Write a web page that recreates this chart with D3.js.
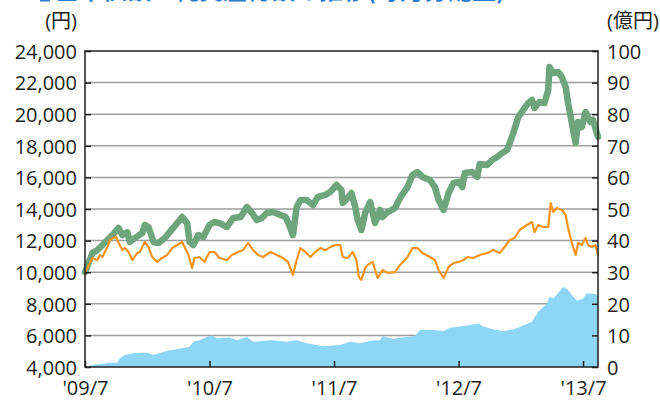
<html>
<head>
<meta charset="utf-8">
<script src="https://d3js.org/d3.v7.min.js"></script>
<style>
  body { margin: 0; background: #fff; }
  text { font-family: "Open Sans", "Noto Sans CJK JP", sans-serif; fill: #231f20; }
  .grid { stroke: #9d9d9d; stroke-width: 1.5; }
  .frame { fill: none; stroke: #231f20; stroke-width: 1.5; }
  .axis line { stroke: #231f20; stroke-width: 1.5; }
  .axis path { display: none; }
  .axis text { font-size: 20px; }
</style>
</head>
<body>
<svg id="chart" width="660" height="400"></svg>
<script>
// x positions are decimal years ('09/7 = 2009.5)
const xTicks = [2009.5, 2010.5, 2011.5, 2012.5, 2013.5];
const xLabels = ["'09/7", "'10/7", "'11/7", "'12/7", "'13/7"];
const leftTicks = [4000, 6000, 8000, 10000, 12000, 14000, 16000, 18000, 20000, 22000, 24000];
const rightTicks = [0, 10, 20, 30, 40, 50, 60, 70, 80, 90, 100];

// 基準価額(分配金再投資) - green, left axis
const greenT = [2009.50,2009.56,2009.60,2009.64,2009.68,2009.72,2009.77,2009.80,2009.84,2009.86,2009.90,2009.96,2009.98,2010.01,2010.05,2010.09,2010.14,2010.18,2010.24,2010.28,2010.32,2010.34,2010.37,2010.41,2010.45,2010.50,2010.54,2010.58,2010.64,2010.69,2010.75,2010.80,2010.84,2010.88,2010.92,2010.96,2011.01,2011.07,2011.11,2011.13,2011.17,2011.20,2011.23,2011.28,2011.33,2011.37,2011.43,2011.47,2011.52,2011.56,2011.57,2011.61,2011.64,2011.67,2011.69,2011.72,2011.75,2011.79,2011.83,2011.87,2011.89,2011.93,2011.99,2012.03,2012.09,2012.13,2012.17,2012.21,2012.27,2012.31,2012.34,2012.38,2012.42,2012.46,2012.50,2012.53,2012.55,2012.61,2012.65,2012.67,2012.73,2012.77,2012.81,2012.85,2012.89,2012.94,2012.98,2013.02,2013.06,2013.09,2013.11,2013.15,2013.19,2013.22,2013.23,2013.26,2013.30,2013.33,2013.36,2013.38,2013.41,2013.44,2013.46,2013.49,2013.52,2013.56,2013.58,2013.62];
const greenV = [10000,11220,11400,11720,12040,12350,12800,12350,12540,11910,12160,12480,12990,12860,11910,11850,12160,12540,13110,13490,13110,11910,11720,12350,12230,12990,13180,13110,12860,13430,13490,14130,13750,13300,13430,13750,13810,13620,13490,13180,12350,14130,14570,14570,14250,14760,14890,15080,15520,15200,14380,14700,15010,14130,13300,12670,13750,14440,13110,13940,13490,13810,14060,14700,15390,16150,16340,16030,15840,15390,14570,13940,15010,15650,15710,15390,16280,16340,16030,16850,16780,17100,17290,17540,17730,18810,19820,20270,20710,20900,20390,20770,20710,21530,22990,22610,22670,22350,21720,20710,19440,18180,19510,19190,20140,19510,19630,18560];

// 基準価額 - orange, left axis
const orangeT = [2009.50,2009.54,2009.56,2009.60,2009.62,2009.64,2009.68,2009.70,2009.72,2009.75,2009.77,2009.80,2009.82,2009.85,2009.88,2009.92,2009.94,2009.98,2010.01,2010.04,2010.08,2010.12,2010.16,2010.20,2010.24,2010.28,2010.30,2010.33,2010.36,2010.38,2010.42,2010.46,2010.50,2010.54,2010.58,2010.64,2010.68,2010.73,2010.77,2010.81,2010.85,2010.89,2010.93,2010.99,2011.04,2011.09,2011.13,2011.17,2011.20,2011.23,2011.27,2011.31,2011.35,2011.39,2011.43,2011.47,2011.51,2011.55,2011.57,2011.61,2011.65,2011.68,2011.70,2011.72,2011.75,2011.77,2011.81,2011.83,2011.85,2011.89,2011.93,2011.99,2012.03,2012.09,2012.13,2012.17,2012.21,2012.27,2012.31,2012.34,2012.38,2012.42,2012.46,2012.50,2012.54,2012.57,2012.62,2012.67,2012.73,2012.78,2012.83,2012.87,2012.91,2012.95,2012.99,2013.05,2013.09,2013.11,2013.14,2013.18,2013.22,2013.24,2013.26,2013.29,2013.33,2013.36,2013.38,2013.41,2013.44,2013.46,2013.49,2013.52,2013.54,2013.57,2013.60,2013.62];
const orangeV = [10000,10580,10900,10770,11090,10960,11590,12040,12160,12230,11850,11400,11530,11280,10770,11220,11280,11910,11590,10960,10650,10900,11090,11530,11720,11910,11590,11090,10270,10900,10960,10650,11280,11280,10900,10770,11090,11280,11400,11850,11400,11090,10960,11280,11090,10900,10650,9820,10770,11530,11280,10960,11280,11530,11400,11590,11720,11720,10960,10900,11280,10770,9700,9510,10270,10460,10650,10140,9630,10140,9950,10010,10460,10960,11530,11530,11220,10960,10770,10140,9630,10330,10580,10650,10770,10960,10900,11090,11220,11400,11220,11590,12040,12160,12670,12990,13180,12540,12990,12860,12860,14380,13810,14060,13940,13620,12800,11850,11090,11850,11720,12160,11720,11590,11720,11090];

// 純資産総額 (億円) - blue area, right axis
const areaT = [2009.50,2009.56,2009.68,2009.76,2009.78,2009.82,2009.89,2010.00,2010.05,2010.10,2010.17,2010.26,2010.34,2010.37,2010.42,2010.48,2010.52,2010.56,2010.66,2010.72,2010.80,2010.85,2010.99,2011.12,2011.20,2011.28,2011.41,2011.55,2011.63,2011.71,2011.79,2011.87,2011.89,2011.97,2012.05,2012.15,2012.19,2012.30,2012.38,2012.43,2012.51,2012.59,2012.66,2012.70,2012.78,2012.86,2012.94,2013.01,2013.09,2013.14,2013.21,2013.23,2013.26,2013.32,2013.34,2013.38,2013.42,2013.45,2013.50,2013.53,2013.60,2013.62];
const areaV = [0,0.6,1.3,1.4,2.8,3.8,4.4,4.5,3.8,4.4,5.2,5.8,6.4,8.0,8.5,9.6,10.0,9.1,9.3,8.5,9.6,8.0,8.5,8.0,8.5,7.5,6.6,7.0,8.0,7.5,8.3,8.5,9.8,8.9,9.3,9.8,11.7,11.7,11.4,12.4,12.8,13.3,13.8,12.8,11.9,11.4,11.9,13.0,14.3,17.5,20.1,22.2,21.7,24.4,25.4,24.4,22.2,21.0,21.7,23.3,23.1,22.5];

const svg = d3.select("#chart");
const plotLeft = 85, plotRight = 598, plotTop = 51, plotBottom = 367;

const x = d3.scaleLinear().domain([2009.5, 2013.62]).range([plotLeft, plotRight]);
const yL = d3.scaleLinear().domain([4000, 24000]).range([plotBottom, plotTop]);
const yR = d3.scaleLinear().domain([0, 100]).range([plotBottom, plotTop]);

// title (only its lower edge shows above the chart, as in the source)
svg.append("rect").attr("x", 40).attr("y", -20).attr("width", 10).attr("height", 21.5).attr("fill", "#2b7bca");
svg.append("text").attr("x", 55).attr("y", -1)
  .style("font-size", "24px").style("font-weight", "bold").style("fill", "#2b7bca")
  .style("font-family", "'Noto Sans CJK JP', sans-serif")
  .text("基準価額・純資産総額の推移(毎月分配型)");

// gridlines
svg.append("g").selectAll("line").data(leftTicks.slice(1, -1)).join("line")
  .attr("class", "grid")
  .attr("x1", plotLeft).attr("x2", plotRight)
  .attr("y1", d => yL(d)).attr("y2", d => yL(d));

// net assets area
const areaData = areaT.map((t, i) => [t, areaV[i]]);
svg.append("path").datum(areaData)
  .attr("fill", "#8dd6f5")
  .attr("d", d3.area().x(d => x(d[0])).y0(yR(0)).y1(d => yR(d[1])));

const line = d3.line().x(d => x(d[0])).y(d => yL(d[1]));

svg.append("path").datum(greenT.map((t, i) => [t, greenV[i]]))
  .attr("fill", "none").attr("stroke", "#6ea57d").attr("stroke-width", 6.5)
  .attr("stroke-linejoin", "round").attr("stroke-linecap", "round")
  .attr("d", line);

svg.append("path").datum(orangeT.map((t, i) => [t, orangeV[i]]))
  .attr("fill", "none").attr("stroke", "#f7941d").attr("stroke-width", 2.2)
  .attr("stroke-linejoin", "round")
  .attr("d", line);

// frame
svg.append("rect").attr("class", "frame")
  .attr("x", plotLeft).attr("y", plotTop).attr("width", plotRight - plotLeft).attr("height", plotBottom - plotTop);

// axes
svg.append("g").attr("class", "axis")
  .attr("transform", `translate(${plotLeft},0)`)
  .call(d3.axisLeft(yL).tickValues(leftTicks).tickFormat(d3.format(","))
    .tickSizeInner(-6).tickSizeOuter(0).tickPadding(8))
  .selectAll("text").attr("dy", "0.36em");

svg.append("g").attr("class", "axis")
  .attr("transform", `translate(${plotRight},0)`)
  .call(d3.axisRight(yR).tickValues(rightTicks)
    .tickSizeInner(-6).tickSizeOuter(0).tickPadding(9))
  .selectAll("text").attr("dy", "0.36em");

svg.append("g").attr("class", "axis")
  .attr("transform", `translate(0,${plotBottom})`)
  .call(d3.axisBottom(x).tickValues(xTicks).tickFormat((d, i) => xLabels[i])
    .tickSizeInner(-6).tickSizeOuter(0).tickPadding(14));

// unit labels
svg.append("text").attr("x", 77).attr("y", 28).attr("text-anchor", "end")
  .style("font-size", "20px").text("(円)");
svg.append("text").attr("x", 607).attr("y", 28)
  .style("font-size", "20px").text("(億円)");
</script>
</body>
</html>
